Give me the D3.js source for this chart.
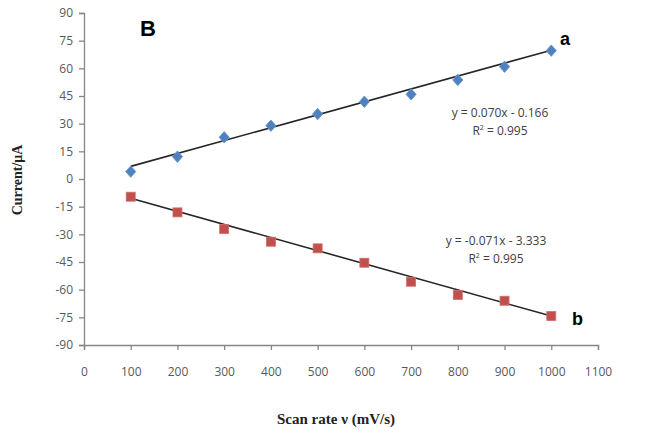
<!DOCTYPE html>
<html><head><meta charset="utf-8">
<script src="https://cdn.jsdelivr.net/npm/d3@7"></script>
<style>body{margin:0;background:#fff}svg{display:block}</style>
</head><body>
<svg id="c" width="667" height="434"></svg>
<script>
const scanRates = [100,200,300,400,500,600,700,800,900,1000];
const seriesA = [4.0,12.1,22.6,28.9,35.2,41.9,45.9,53.7,60.9,69.6];
const seriesB = [-9.6,-18.1,-27.1,-34.0,-37.6,-45.4,-55.7,-62.9,-66.0,-74.3];
const trendA = {slope:0.070, intercept:-0.166, eq:"y = 0.070x - 0.166", r2:"0.995"};
const trendB = {slope:-0.071, intercept:-3.333, eq:"y = -0.071x - 3.333", r2:"0.995"};
const xTicks = [0,100,200,300,400,500,600,700,800,900,1000,1100];
const yTicks = [-90,-75,-60,-45,-30,-15,0,15,30,45,60,75,90];

const svg = d3.select("#c");
const x = d3.scaleLinear().domain([0,1100]).range([84,598]);
const y = d3.scaleLinear().domain([-90,90]).range([345,13]);
const axisCol = "#868686", txtCol = "#595959";
const fmt = d => String(d);

const yAx = svg.append("g").attr("transform","translate(84,0)")
  .call(d3.axisLeft(y).tickValues(yTicks).tickFormat(fmt).tickSize(5).tickPadding(6));
const xAx = svg.append("g").attr("transform","translate(0,345)")
  .call(d3.axisBottom(x).tickValues(xTicks).tickFormat(fmt).tickSize(5).tickPadding(17));
[yAx,xAx].forEach(g=>{
  g.select(".domain").attr("stroke",axisCol).attr("stroke-width",1.3);
  g.selectAll(".tick line").attr("stroke",axisCol).attr("stroke-width",1.3);
  g.selectAll(".tick text").attr("fill",txtCol).style("font-family","'Open Sans',sans-serif").style("font-size","12px");
});

function trend(t){
  const ln = d3.line().x(d=>x(d)).y(d=>y(t.slope*d+t.intercept));
  svg.append("path").attr("d",ln([scanRates[0],scanRates[scanRates.length-1]]))
    .attr("stroke","#262626").attr("stroke-width",1.6).attr("fill","none");
}
trend(trendA); trend(trendB);

const dA = scanRates.map((r,i)=>({x:r,y:seriesA[i]}));
const dB = scanRates.map((r,i)=>({x:r,y:seriesB[i]}));
svg.append("g").selectAll("path").data(dA).join("path")
  .attr("d",d3.symbol(d3.symbolSquare,52)())
  .attr("transform",d=>`translate(${x(d.x)},${y(d.y)}) scale(1,1.12) rotate(45)`)
  .attr("fill","#4F81BD").attr("stroke","#6a97cc").attr("stroke-width",0.8);
svg.append("g").selectAll("rect").data(dB).join("rect")
  .attr("x",d=>x(d.x)-4.5).attr("y",d=>y(d.y)-4.5).attr("width",9).attr("height",9)
  .attr("fill","#C0504D").attr("stroke","#cf6e6b").attr("stroke-width",0.8);

function eqText(t,cx,y1){
  svg.append("text").attr("x",cx).attr("y",y1).attr("text-anchor","middle")
    .attr("fill","#404040").style("font-family","'Open Sans',sans-serif").style("font-size","12px").text(t.eq);
  const r = svg.append("text").attr("x",cx).attr("y",y1+18).attr("text-anchor","middle")
    .attr("fill","#404040").style("font-family","'Open Sans',sans-serif").style("font-size","12px");
  r.append("tspan").text("R");
  r.append("tspan").attr("dy",-5).style("font-size","7px").text("2");
  r.append("tspan").attr("dy",5).text(" = "+t.r2);
}
eqText(trendA,500,117);
eqText(trendB,496,245);

svg.append("text").attr("x",140).attr("y",36).style("font-family","'Liberation Sans',Arial,sans-serif")
  .style("font-weight","bold").style("font-size","22px").attr("fill","#000").text("B");
svg.append("text").attr("x",560).attr("y",45).style("font-family","'Liberation Sans',Arial,sans-serif")
  .style("font-weight","bold").style("font-size","18px").attr("fill","#000").text("a");
svg.append("text").attr("x",572).attr("y",325).style("font-family","'Liberation Sans',Arial,sans-serif")
  .style("font-weight","bold").style("font-size","18px").attr("fill","#000").text("b");

svg.append("text").attr("x",336).attr("y",424).attr("text-anchor","middle")
  .style("font-family","'Liberation Serif','Times New Roman',serif").style("font-weight","bold")
  .style("font-size","15px").attr("fill","#222").text("Scan rate ν (mV/s)");
svg.append("text").attr("transform","translate(22,180) rotate(-90)").attr("text-anchor","middle")
  .style("font-family","'Liberation Serif','Times New Roman',serif").style("font-weight","bold")
  .style("font-size","14px").attr("fill","#222").text("Current/μA");
</script>
</body></html>
